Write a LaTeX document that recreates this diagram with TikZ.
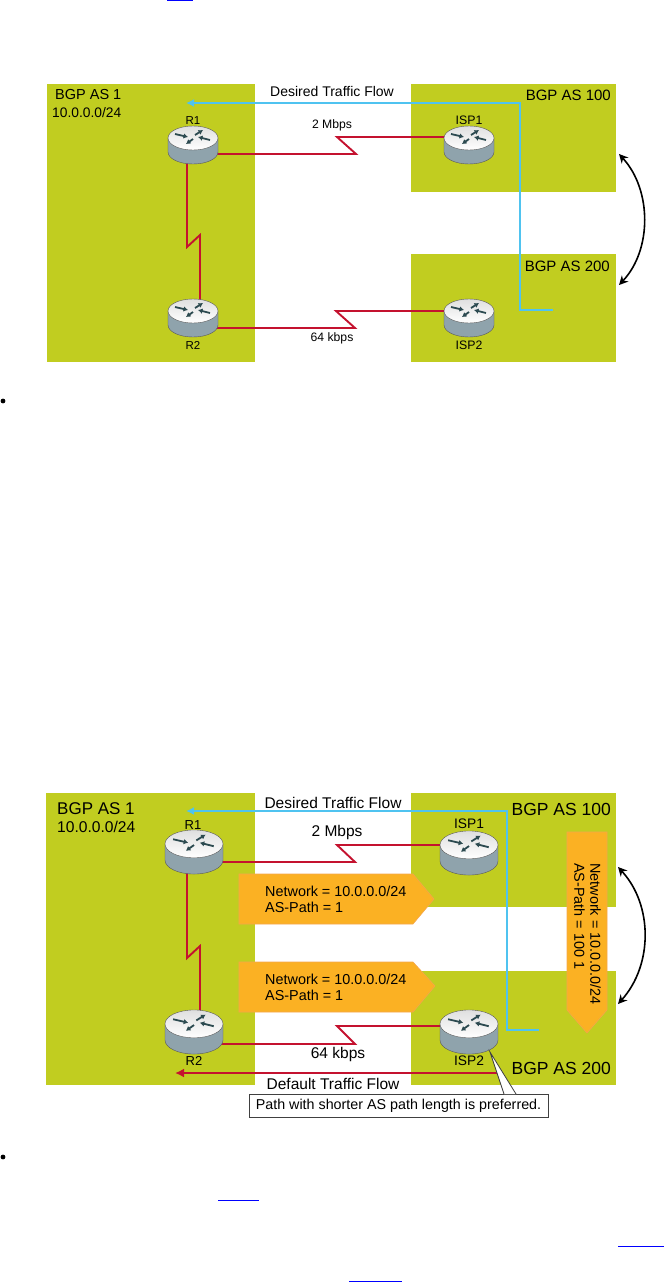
\documentclass[tikz,border=0pt]{standalone}
\usepackage{fontspec}
\setmainfont{Liberation Sans}
\usetikzlibrary{positioning, arrows.meta}
\definecolor{asgreen}{HTML}{C1CD20}
\definecolor{wanred}{HTML}{C4122F}
\definecolor{flowblue}{HTML}{4FC3F0}
\definecolor{msgorange}{HTML}{FBB123}
\definecolor{msgedge}{HTML}{F4A64C}
\definecolor{arrowteal}{HTML}{2C4A50}
\definecolor{steel}{HTML}{8FA3AC}
\newcommand{\fs}[1]{\fontsize{#1}{#1}\selectfont}

\begin{document}
\begin{tikzpicture}[
	x=1pt, y=1pt, yscale=-1,
	>=Latex,
	% Define styles for the blocks
	asbox/.style={
		fill=asgreen,
		draw=none
	},
	hub/.style={
		inner sep=0pt,
		outer sep=0pt,
		minimum width=50pt,
		minimum height=38pt
	},
	hub_big/.style={
		hub,
		minimum width=58pt,
		minimum height=41pt
	},
	wan/.style={
		draw=wanred,
		line width=1.9pt,
		line join=miter
	},
	flow/.style={
		draw=flowblue,
		line width=1.7pt,
		-{Latex[length=8pt,width=8pt]}
	},
	defaultflow/.style={
		draw=wanred,
		line width=1.9pt,
		-{Latex[length=9pt,width=9pt]}
	},
	swap_arrow/.style={
		black,
		line width=1.6pt,
		{Stealth[length=9pt,width=9pt]}-{Stealth[length=9pt,width=9pt]}
	},
	msg/.style={
		fill=msgorange,
		draw=msgedge,
		line width=0.6pt
	},
	msg_text/.style={
		align=left,
		inner sep=0pt,
		font=\fs{14.4}
	},
	router_arrow/.style={
		-{Latex[length=4.5pt,width=5.5pt]},
		arrowteal,
		line width=1.8pt
	},
	router/.pic={
		\path[left color=steel, middle color=white, right color=steel, draw=gray!70!black, line width=0.4pt]
			(-25,7) -- (-25,-7) arc (180:360:25 and 12) -- (25,7) -- cycle;
		\path[top color=gray!25, bottom color=white, draw=gray!70!black, line width=0.4pt]
			(0,7) ellipse (25 and 12);
		\draw[router_arrow] (-18,11) -- (-5,8);
		\draw[router_arrow] (17,5) -- (5,8);
		\draw[router_arrow] (2,10) -- (10,15);
		\draw[router_arrow] (0,6) -- (-7,1);
	}
	]

	\useasboundingbox (0,0) rectangle (664,1282);

	% --- 1. UPPER FIGURE, AREAS ---
	\fill[asbox] (47,84) rectangle (255,362);
	\fill[asbox] (411,84) rectangle (616,192);
	\fill[asbox] (411,254) rectangle (616,362);

	\node[hub] (r1) at (193,145) {};
	\node[hub] (r2) at (193,318) {};
	\node[hub] (isp1) at (469,145) {};
	\node[hub] (isp2) at (469,318) {};

	\node[font=\fs{14.5}, anchor=west, inner sep=0pt] (as1) at (55,95) {BGP AS 1};
	\node[font=\fs{13.8}, anchor=west, inner sep=0pt] (net1) at (52,113) {10.0.0.0/24};
	\node[font=\fs{15}, anchor=east, inner sep=0pt] (as100) at (611,95) {BGP AS 100};
	\node[font=\fs{15}, anchor=east, inner sep=0pt] (as200) at (610,266) {BGP AS 200};

	\node[font=\fs{11.5}, above=1pt of r1, inner sep=0pt] (r1_label) {R1};
	\node[font=\fs{11.5}, below=23pt of r2.center, inner sep=0pt] (r2_label) {R2};
	\node[font=\fs{12.3}, above=1pt of isp1, inner sep=0pt] (isp1_label) {ISP1};
	\node[font=\fs{12.3}, below=23pt of isp2.center, inner sep=0pt] (isp2_label) {ISP2};

	% Serial links
	\coordinate (top_low) at (356,154);
	\coordinate (top_high) at (337,137);
	\coordinate (bot_low) at (355,328);
	\coordinate (bot_high) at (336,311);
	\coordinate (side_a) at (187,247);
	\coordinate (side_b) at (200,235);
	\draw[wan] (r1 |- top_low) -- (top_low) -- (top_high) -- (isp1 |- top_high);
	\draw[wan] (r2 |- bot_low) -- (bot_low) -- (bot_high) -- (isp2 |- bot_high);
	\draw[wan] (r1 -| side_a) -- (side_a) -- (side_b) -- (r2 -| side_b);

	\node[font=\fs{12.2}] (speed1) at (332,125) {2 Mbps};
	\node[font=\fs{12.2}] (speed2) at (332,338) {64 kbps};

	% Routers on top of the links
	\pic at (r1) {router};
	\pic at (r2) {router};
	\pic at (isp1) {router};
	\pic at (isp2) {router};

	% Desired flow
	\coordinate (flow_end) at (553,310);
	\coordinate (flow_corner) at (520,310);
	\coordinate (flow_top) at (520,103);
	\coordinate (flow_tip) at (186,103);
	\draw[flow] (flow_end) -- (flow_corner) -- (flow_top) -- (flow_tip);
	\node[font=\fs{14}] (flow_label) at (332,91) {Desired Traffic Flow};

	% AS swap
	\coordinate (swap_a) at (619,154);
	\coordinate (swap_b) at (619,285);
	\draw[swap_arrow] (swap_a) .. controls (652,190) and (652,250) .. (swap_b);

	% --- 2. LOWER FIGURE, AREAS ---
	\fill[asbox] (46,793) rectangle (255,1085);
	\fill[asbox] (411,793) rectangle (616,907);
	\fill[asbox] (411,971) rectangle (616,1085);

	\node[hub_big] (r1b) at (194,852) {};
	\node[hub_big] (r2b) at (194,1032) {};
	\node[hub_big] (isp1b) at (469,853) {};
	\node[hub_big] (isp2b) at (469,1032) {};

	\node[font=\fs{17}, anchor=west, inner sep=0pt] (as1b) at (57,809) {BGP AS 1};
	\node[font=\fs{15.6}, anchor=west, inner sep=0pt] (net1b) at (57,827) {10.0.0.0/24};
	\node[font=\fs{17.5}, anchor=east, inner sep=0pt] (as100b) at (611,809) {BGP AS 100};
	\node[font=\fs{17.5}, anchor=east, inner sep=0pt] (as200b) at (611,1068) {BGP AS 200};

	\node[font=\fs{13}, inner sep=0pt] (r1b_label) at (193,825) {R1};
	\node[font=\fs{13}, inner sep=0pt] (r2b_label) at (194,1061) {R2};
	\node[font=\fs{13.8}, inner sep=0pt] (isp1b_label) at (469,824) {ISP1};
	\node[font=\fs{13.8}, inner sep=0pt] (isp2b_label) at (469,1061) {ISP2};

	% Serial links
	\coordinate (topb_low) at (355,862);
	\coordinate (topb_high) at (337,845);
	\coordinate (botb_low) at (355,1044);
	\coordinate (botb_high) at (337,1026);
	\coordinate (sideb_a) at (187,958);
	\coordinate (sideb_b) at (200,946);
	\draw[wan] (r1b |- topb_low) -- (topb_low) -- (topb_high) -- (isp1b |- topb_high);
	\draw[wan] (r2b |- botb_low) -- (botb_low) -- (botb_high) -- (isp2b |- botb_high);
	\draw[wan] (r1b -| sideb_a) -- (sideb_a) -- (sideb_b) -- (r2b -| sideb_b);

	\node[font=\fs{15.5}] (speed1b) at (337,832) {2 Mbps};
	\node[font=\fs{15.5}] (speed2b) at (338,1054) {64 kbps};

	% Default flow under the ISP2 router
	\coordinate (default_start) at (497,1073);
	\coordinate (default_tip) at (175,1073);
	\draw[defaultflow] (default_start) -- (default_tip);
	\node[font=\fs{15.5}] (default_label) at (333,1084) {Default Traffic Flow};

	% Routers on top of the links
	\pic[scale=1.16] at (r1b) {router};
	\pic[scale=1.16] at (r2b) {router};
	\pic[scale=1.16] at (isp1b) {router};
	\pic[scale=1.16] at (isp2b) {router};

	% Updates
	\draw[msg] (239,874) -- (413,874) -- (434,899) -- (413,924) -- (239,924) -- cycle;
	\draw[msg] (239,962) -- (413,962) -- (435,986) -- (413,1012) -- (239,1012) -- cycle;
	\draw[msg] (567,832) -- (607,832) -- (607,1010) -- (587,1033) -- (567,1010) -- cycle;
	\node[msg_text, anchor=west] (update1) at (265,899) {Network = 10.0.0.0/24\\[1.5pt]AS-Path = 1};
	\node[msg_text, anchor=west] (update2) at (265,987) {Network = 10.0.0.0/24\\[1.5pt]AS-Path = 1};
	\node[msg_text, rotate=-90, anchor=west] (update3) at (587.5,863) {Network = 10.0.0.0/24\\[1.5pt]AS-Path = 100 1};

	% Desired flow
	\coordinate (flowb_end) at (539,1030);
	\coordinate (flowb_corner) at (507,1030);
	\coordinate (flowb_top) at (507,811);
	\coordinate (flowb_tip) at (186,811);
	\draw[flow] (flowb_end) -- (flowb_corner) -- (flowb_top) -- (flowb_tip);
	\node[font=\fs{15.5}] (flowb_label) at (333,803) {Desired Traffic Flow};

	% AS swap
	\coordinate (swapb_a) at (618,867);
	\coordinate (swapb_b) at (618,1004);
	\draw[swap_arrow] (swapb_a) .. controls (653,905) and (653,965) .. (swapb_b);

	% Callout
	\node[draw=black!75, line width=1pt, fill=white, font=\fs{14.3}, minimum width=299pt, minimum height=23pt, inner sep=0pt] (note) at (398.5,1105.5) {Path with shorter AS path length is preferred.};
	\coordinate (note_tip) at (490,1052);
	\coordinate (note_a) at (504,1094);
	\coordinate (note_b) at (516,1094);
	\fill[white] (note_a) -- (note_tip) -- (note_b) -- cycle;
	\draw[black!75, line width=0.8pt] (note_a) -- (note_tip) -- (note_b);

	% --- 3. PAGE LEFTOVERS ---
	\fill[black] (3,401) circle (2.4);
	\fill[black] (3,1157) circle (2.4);
	\draw[blue, line width=1pt] (167,0.5) -- (193,0.5);
	\draw[blue, line width=1pt] (218,1200) -- (259,1200);
	\draw[blue, line width=1pt] (618,1246) -- (664,1246);
	\draw[blue, line width=1pt] (349,1281) -- (402,1281);

\end{tikzpicture}
\end{document}
